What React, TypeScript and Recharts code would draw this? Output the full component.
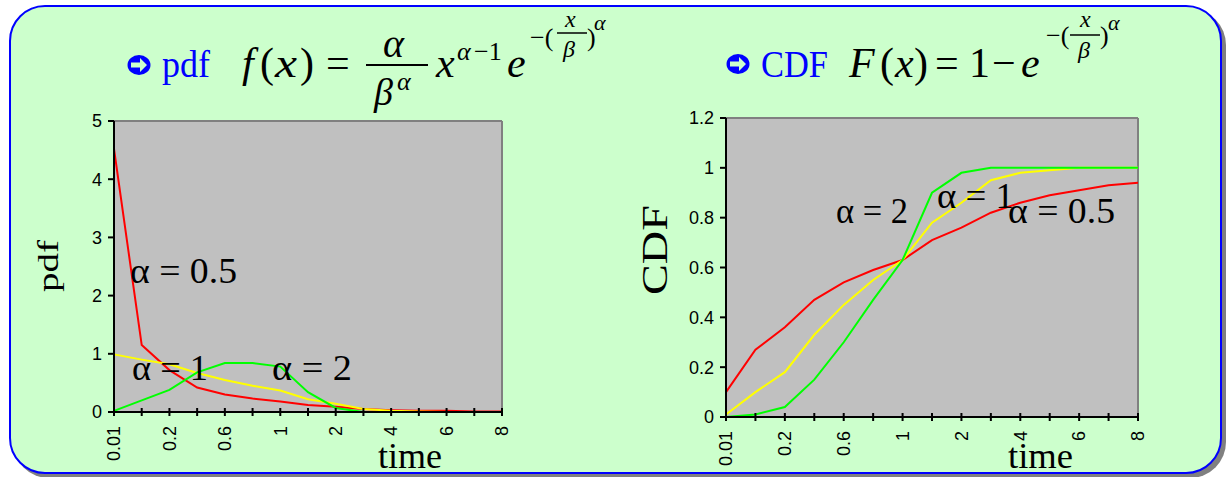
import React from "react";
import { CartesianGrid, Line, LineChart, ReferenceLine, XAxis, YAxis } from "recharts";

// time categories along both x axes (Excel-style category axis)
const TIMES = ["0.01", "0.1", "0.2", "0.4", "0.6", "0.8", "1", "1.5", "2", "3", "4", "5", "6", "7", "8"];

// Weibull pdf, beta = 1
const PDF_A05 = [4.52, 1.15, 0.72, 0.42, 0.3, 0.23, 0.18, 0.12, 0.09, 0.05, 0.03, 0.02, 0.02, 0.01, 0.01];
const PDF_A1 = [0.99, 0.9, 0.82, 0.67, 0.55, 0.45, 0.37, 0.22, 0.14, 0.05, 0.02, 0.01, 0, 0, 0];
const PDF_A2 = [0.02, 0.2, 0.38, 0.68, 0.84, 0.84, 0.78, 0.34, 0.07, 0, 0, 0, 0, 0, 0];

// Weibull CDF, beta = 1
const CDF_A05 = [0.1, 0.27, 0.36, 0.47, 0.54, 0.59, 0.63, 0.71, 0.76, 0.82, 0.86, 0.89, 0.91, 0.93, 0.94];
const CDF_A1 = [0.01, 0.1, 0.18, 0.33, 0.45, 0.55, 0.63, 0.78, 0.86, 0.95, 0.98, 0.99, 1, 1, 1];
const CDF_A2 = [0, 0.01, 0.04, 0.15, 0.3, 0.47, 0.63, 0.9, 0.98, 1, 1, 1, 1, 1, 1];

const PDF_TICKS = [0, 1, 2, 3, 4, 5];
const CDF_TICKS = [0, 0.2, 0.4, 0.6, 0.8, 1, 1.2];

const RED = "#FF0000";
const YELLOW = "#FFFF00";
const GREEN = "#00FF00";
const PLOT = "#C0C0C0";
const SANS = "'Liberation Sans', Arial, sans-serif";
const SERIF = "'Liberation Serif', 'Times New Roman', serif";

const pdfRows = TIMES.map((t, i) => ({ time: t, a05: PDF_A05[i], a1: PDF_A1[i], a2: PDF_A2[i] }));
const cdfRows = TIMES.map((t, i) => ({ time: t, a05: CDF_A05[i], a1: CDF_A1[i], a2: CDF_A2[i] }));

const X_TICK = 4;

// cross tick at every category, rotated label on every other one
function TimeTick(props: any) {
  const { x, y, payload } = props;
  const axisY = y - X_TICK;
  const idx = TIMES.indexOf(String(payload.value));
  return (
    <g>
      <line x1={x} x2={x} y1={axisY - 4} y2={axisY + 4} stroke="#000" strokeWidth={2} />
      {idx % 2 === 0 && (
        <text
          transform={`translate(${x},${axisY + 14}) rotate(-90)`}
          textAnchor="end"
          dy="0.35em"
          fontSize={18}
          fontFamily={SANS}
          fill="#000"
        >
          {payload.value}
        </text>
      )}
    </g>
  );
}

const yTick = { fill: "#000", fontSize: 18, fontFamily: SANS };

function WeibullChart({
  rows,
  ticks,
  max,
  width,
  margin,
}: {
  rows: typeof pdfRows;
  ticks: number[];
  max: number;
  width: number;
  margin: { top: number; right: number; bottom: number; left: number };
}) {
  return (
    <LineChart width={width} height={377} data={rows} margin={margin}>
      <CartesianGrid fill={PLOT} fillOpacity={1} horizontal={false} vertical={false} />
      <ReferenceLine y={max} stroke="#808080" strokeWidth={2} />
      <ReferenceLine x="8" stroke="#808080" strokeWidth={2} />
      <XAxis
        dataKey="time"
        interval={0}
        height={60}
        tickSize={X_TICK}
        tickMargin={0}
        tickLine={false}
        axisLine={{ stroke: "#000", strokeWidth: 2 }}
        tick={<TimeTick />}
      />
      <YAxis
        domain={[0, max]}
        ticks={ticks}
        width={60}
        tickSize={6}
        tickMargin={6}
        tick={yTick}
        tickLine={{ stroke: "#000", strokeWidth: 2 }}
        axisLine={{ stroke: "#000", strokeWidth: 2 }}
      />
      <Line dataKey="a05" stroke={RED} strokeWidth={2} dot={false} isAnimationActive={false} />
      <Line dataKey="a1" stroke={YELLOW} strokeWidth={2} dot={false} isAnimationActive={false} />
      <Line dataKey="a2" stroke={GREEN} strokeWidth={2} dot={false} isAnimationActive={false} />
    </LineChart>
  );
}

type TProps = {
  x: number;
  y: number;
  size: number;
  italic?: boolean;
  fill?: string;
  len?: number;
  children: React.ReactNode;
};

function T({ x, y, size, italic, fill = "#000", len, children }: TProps) {
  return (
    <text
      x={x}
      y={y}
      fontSize={size}
      fontFamily={SERIF}
      fontStyle={italic ? "italic" : "normal"}
      fill={fill}
      textLength={len}
      lengthAdjust={len ? "spacingAndGlyphs" : undefined}
    >
      {children}
    </text>
  );
}

function Bullet({ cx, cy }: { cx: number; cy: number }) {
  return (
    <g>
      <ellipse cx={cx} cy={cy} rx={11.5} ry={10} fill="#0000FF" />
      <path
        d={`M${cx - 8},${cy - 2.5} H${cx + 1} V${cy - 7} L${cx + 8},${cy} L${cx + 1},${cy + 7} V${cy + 2.5} H${cx - 8} Z`}
        fill="#CCFFCC"
      />
    </g>
  );
}

function Titles() {
  return (
    <svg width={1226} height={477} style={{ position: "absolute", left: 0, top: 0, pointerEvents: "none" }}>
      {/* pdf heading */}
      <Bullet cx={139} cy={65} />
      <T x={162} y={77} size={38} fill="#0000FF" len={48}>pdf</T>
      <T x={242} y={77} size={42} italic>f</T>
      <T x={260} y={77} size={42}>(</T>
      <T x={275} y={77} size={42} italic len={22}>x</T>
      <T x={300} y={77} size={42}>)</T>
      <T x={326} y={77} size={42}>=</T>
      <T x={383} y={57} size={40} italic>α</T>
      <line x1={366} x2={428} y1={65} y2={65} stroke="#000" strokeWidth={2} />
      <T x={374} y={105} size={38} italic>β</T>
      <T x={397} y={90} size={26} italic>α</T>
      <T x={436} y={77} size={42} italic>x</T>
      <T x={457} y={60} size={26} italic>α</T>
      <T x={474} y={60} size={26}>−1</T>
      <T x={507} y={77} size={42} italic>e</T>
      <T x={530} y={46} size={26}>−(</T>
      <T x={565} y={27} size={24} italic>x</T>
      <line x1={557} x2={587} y1={33} y2={33} stroke="#000" strokeWidth={1.5} />
      <T x={563} y={57} size={24} italic>β</T>
      <T x={587} y={46} size={26}>)</T>
      <T x={594} y={30} size={22} italic>α</T>

      {/* CDF heading */}
      <Bullet cx={738} cy={64} />
      <T x={761} y={77} size={38} fill="#0000FF" len={67}>CDF</T>
      <T x={849} y={77} size={42} italic>F</T>
      <T x={880} y={77} size={42}>(</T>
      <T x={895} y={77} size={42} italic>x</T>
      <T x={914} y={77} size={42}>)</T>
      <T x={935} y={77} size={42}>=</T>
      <T x={969} y={77} size={42}>1</T>
      <T x={992} y={77} size={42}>−</T>
      <T x={1021} y={77} size={42} italic>e</T>
      <T x={1046} y={44} size={26}>−(</T>
      <T x={1080} y={27} size={24} italic>x</T>
      <line x1={1070} x2={1100} y1={35} y2={35} stroke="#000" strokeWidth={1.5} />
      <T x={1078} y={58} size={24} italic>β</T>
      <T x={1100} y={44} size={26}>)</T>
      <T x={1108} y={30} size={22} italic>α</T>

      {/* axis titles */}
      <text transform="translate(58,266) rotate(-90)" textAnchor="middle" fontSize={30} fontFamily={SERIF} textLength={52} lengthAdjust="spacingAndGlyphs">pdf</text>
      <text transform="translate(667,250) rotate(-90)" textAnchor="middle" fontSize={36} fontFamily={SERIF} textLength={90} lengthAdjust="spacingAndGlyphs">CDF</text>
      <T x={378} y={468} size={36} len={64}>time</T>
      <T x={1008} y={468} size={36} len={65}>time</T>

      {/* curve labels */}
      <T x={130} y={283} size={35} len={107}>α = 0.5</T>
      <T x={132} y={380} size={35} len={76}>α = 1</T>
      <T x={272} y={380} size={35} len={80}>α = 2</T>
      <T x={836} y={223} size={35} len={72}>α = 2</T>
      <T x={937} y={208} size={35} len={77}>α = 1</T>
      <T x={1008} y={223} size={35} len={107}>α = 0.5</T>
    </svg>
  );
}

export default function App() {
  return (
    <div style={{ position: "absolute", left: 0, top: 0, width: 1226, height: 477, background: "#fff", overflow: "hidden" }}>
      <div
        style={{
          position: "absolute",
          left: 9,
          top: 5,
          width: 1213,
          height: 469,
          boxSizing: "border-box",
          borderRadius: 36,
          border: "2px solid #0000FF",
          background: "#CCFFCC",
          boxShadow: "4px 4px 0 #808080",
        }}
      />
      <div style={{ position: "absolute", left: 0, top: 100 }}>
        <WeibullChart rows={pdfRows} ticks={PDF_TICKS} max={5} width={540} margin={{ top: 21, right: 38, bottom: 5, left: 54 }} />
      </div>
      <div style={{ position: "absolute", left: 620, top: 100 }}>
        <WeibullChart rows={cdfRows} ticks={CDF_TICKS} max={1.2} width={560} margin={{ top: 18, right: 42, bottom: 0, left: 46 }} />
      </div>
      <Titles />
    </div>
  );
}
